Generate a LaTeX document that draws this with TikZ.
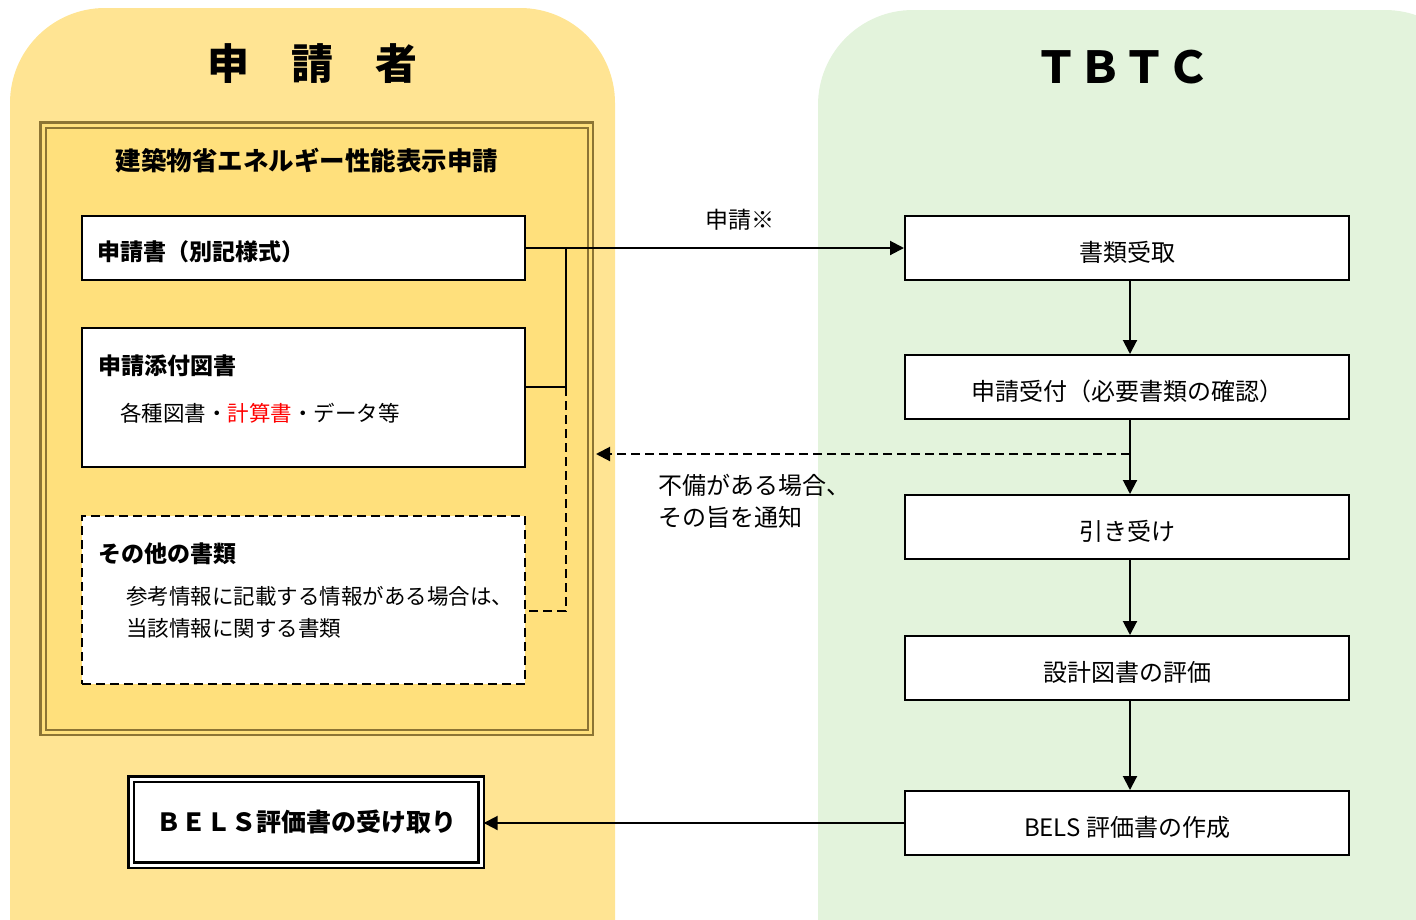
\documentclass[tikz,border=0pt]{standalone}
\usepackage{fontspec}
\setmainfont{Noto Sans CJK JP}
\usetikzlibrary{arrows.meta}
\tikzset{>={Triangle[length=14pt,width=14pt]}}
\definecolor{sideyellow}{HTML}{FFE493}
\definecolor{frameyellow}{HTML}{FFE07C}
\definecolor{framebrown}{HTML}{8C7434}
\definecolor{sidegreen}{HTML}{E3F3DC}
\tikzstyle{docbox} = [draw, line width=2pt, fill=white, minimum width=443pt]
\tikzstyle{stepbox} = [draw, line width=2pt, fill=white, minimum width=444pt,
    minimum height=64pt, text height=27pt, text depth=0pt,
    font=\fontsize{24}{28}\selectfont]
\tikzstyle{txt} = [inner sep=0pt, anchor=west, font=\fontsize{21.5}{25}\selectfont]
\tikzstyle{boldtxt} = [inner sep=0pt, anchor=west, font=\fontsize{23}{27}\selectfont\bfseries]
\tikzstyle{link} = [line width=2pt]

\begin{document}
\begin{tikzpicture}[x=1pt, y=-1pt]
\useasboundingbox (0,0) rectangle (1416,919);
\clip (0,0) rectangle (1416,919);
    %sides
    \fill[sideyellow, rounded corners=95pt] (10,8) rectangle (615,1020);
    \fill[sidegreen, rounded corners=95pt] (818,10) rectangle (1480,1020);
    \node[font=\fontsize{42}{46}\selectfont\bfseries] (applicant) at (312,64) {申　請　者};
    \node[font=\fontsize{44}{48}\selectfont\bfseries] (tbtc) at (1122,67) {ＴＢＴＣ};
    %application frame
    \draw[framebrown, line width=2.4pt, double=frameyellow, double distance=3pt,
        fill=frameyellow] (43,125) rectangle (590.5,732.5);
    \node[font=\fontsize{25.5}{29}\selectfont\bfseries] (title) at (307,161) {建築物省エネルギー性能表示申請};
    %documents
    \node[docbox, minimum height=64pt] (form) at (303.5,248) {};
    \node[boldtxt] at ([xshift=16pt, yshift=-4pt]form.west) {申請書（別記様式）};
    \node[docbox, minimum height=139pt] (drawings) at (303.5,397.5) {};
    \node[boldtxt] at (98,366) {申請添付図書};
    \node[txt] at (120,413) {各種図書・\textcolor{red}{計算書}・データ等};
    \node[docbox, dashed, dash pattern=on 9pt off 5pt, minimum height=168pt] (others) at (303.5,600) {};
    \node[boldtxt] at (98,554) {その他の書類};
    \node[txt] at (126,596) {参考情報に記載する情報がある場合は、};
    \node[txt] at (126,628) {当該情報に関する書類};
    %receipt
    \node[draw, line width=2.4pt, double=white, double distance=3pt, fill=white,
        minimum width=350pt, minimum height=86pt, outer sep=2.7pt,
        font=\fontsize{25}{29}\selectfont\bfseries] (bels) at (306,822) {ＢＥＬＳ評価書の受け取り\hspace{8pt}};
    %steps
    \node[stepbox] (receive) at (1127,248) {書類受取};
    \node[stepbox] (accept) at (1127,387) {申請受付（必要書類の確認）};
    \node[stepbox] (undertake) at (1127,527) {引き受け};
    \node[stepbox] (evaluate) at (1127,668) {設計図書の評価};
    \node[stepbox] (issue) at (1127,823) {BELS 評価書の作成};
    %connectors
    \coordinate (j1) at (566,248);
    \coordinate (j2) at (566,387);
    \coordinate (j3) at (566,611);
    \coordinate (ng) at (1130,454);
    \coordinate (nt) at (596,454);
    \draw[link, ->] (form.east) -- (receive.west)
        node[midway, above=13pt, font=\fontsize{23}{27}\selectfont, xshift=25pt] {申請※};
    \draw[link] (j1) -- (j2) -- (drawings.east |- j2);
    \draw[link, dashed, dash pattern=on 9pt off 5pt] (j2) -- (j3) -- (others.east |- j3);
    \draw[link, ->] ([xshift=3pt]receive.south) -- ([xshift=3pt]accept.north);
    \draw[link, ->] ([xshift=3pt]accept.south) -- ([xshift=3pt]undertake.north);
    \draw[link, ->] ([xshift=3pt]undertake.south) -- ([xshift=3pt]evaluate.north);
    \draw[link, ->] ([xshift=3pt]evaluate.south) -- ([xshift=3pt]issue.north);
    \draw[link, dashed, dash pattern=on 9pt off 5pt, ->] (ng) -- (nt);
    \node[txt, font=\fontsize{24}{28}\selectfont] (note1) at (658,485) {不備がある場合、};
    \node[txt, font=\fontsize{24}{28}\selectfont] (note2) at (658,517) {その旨を通知};
    \draw[link, ->] (issue.west) -- (issue.west -| bels.east);
\end{tikzpicture}
\end{document}
